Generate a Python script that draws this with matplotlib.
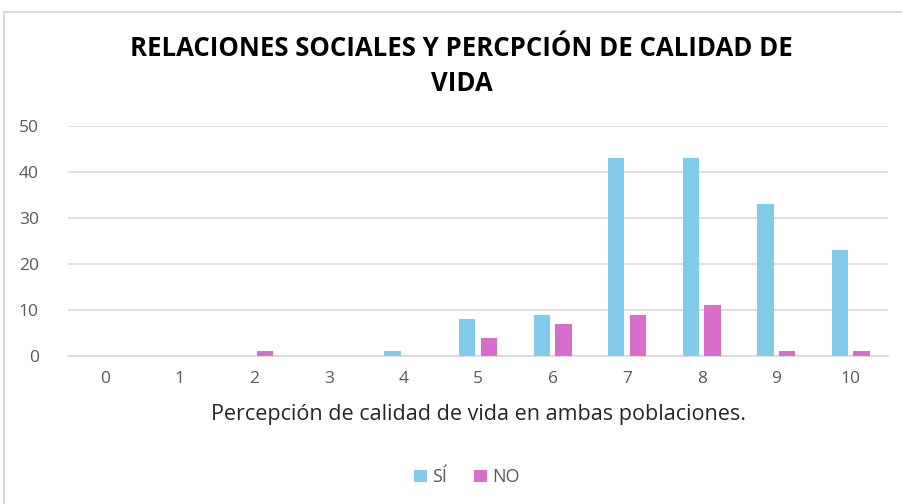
import matplotlib.pyplot as plt
import numpy as np
from matplotlib.patches import Rectangle

# Datos
puntajes = ['0', '1', '2', '3', '4', '5', '6', '7', '8', '9', '10']
si = [0, 0, 0, 0, 1, 8, 9, 43, 43, 33, 23]
no = [0, 0, 1, 0, 0, 4, 7, 9, 11, 1, 1]

azul = '#83CBEB'
rosa = '#D86ECC'
gris = '#595959'

plt.rcParams['font.family'] = ['Open Sans', 'DejaVu Sans']

fig = plt.figure(figsize=(9.03, 5.04), dpi=100)
ax = fig.add_axes([0.0753, 0.2937, 0.9081, 0.4563])

# marco del gráfico
fig.patches.append(Rectangle((4 / 903, -0.1), 1.2, 1 - 12 / 504 + 0.1,
                             transform=fig.transFigure, fill=False,
                             edgecolor='#D9D9D9', linewidth=1.5))

x = np.arange(len(puntajes))
ancho = 0.22
ax.bar(x - 0.145, si, ancho, color=azul, label='SÍ', zorder=3)
ax.bar(x + 0.145, no, ancho, color=rosa, label='NO', zorder=3)

ax.set_xlim(-0.5, 10.5)
ax.set_ylim(0, 50)
ax.set_yticks(range(0, 51, 10))
ax.set_xticks(x)
ax.set_xticklabels(puntajes)
ax.grid(axis='y', color='#D9D9D9', linewidth=1.2, zorder=0)
for s in ['top', 'right', 'left']:
    ax.spines[s].set_visible(False)
ax.spines['bottom'].set_color('#D9D9D9')
ax.spines['bottom'].set_linewidth(1.2)
ax.tick_params(length=0, labelsize=12.5, labelcolor=gris)
ax.tick_params(axis='x', pad=11)
ax.tick_params(axis='y', pad=21)

ax.set_xlabel('Percepción de calidad de vida en ambas poblaciones.',
              fontsize=15.5, color='#262626', labelpad=12)

fig.text(0.511, 0.869, 'RELACIONES SOCIALES Y PERCPCIÓN DE CALIDAD DE\nVIDA',
         ha='center', va='center', fontsize=18.5, fontweight='bold',
         linespacing=1.42, color='black')

fig.legend(loc='center', bbox_to_anchor=(0.517, 0.053), ncol=2, frameon=False,
           fontsize=13, labelcolor=gris, handlelength=0.7, handleheight=0.7,
           handletextpad=0.3, columnspacing=1.5)

plt.savefig('out.png', dpi=100)
